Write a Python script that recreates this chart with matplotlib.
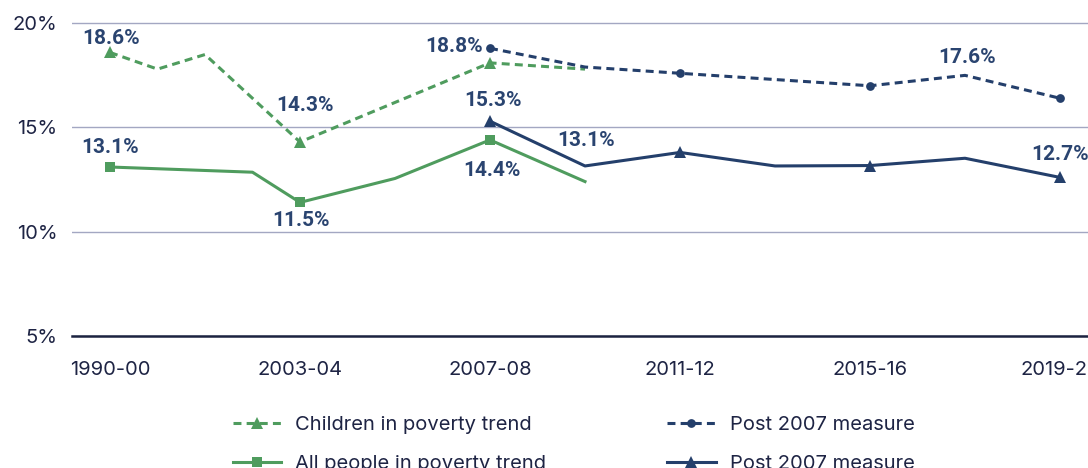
import matplotlib
matplotlib.use("Agg")
import matplotlib.pyplot as plt

# ---------------- data ----------------
categories = ["1990-00", "2000-01", "2001-02", "2002-03", "2003-04", "2004-05",
              "2005-06", "2006-07", "2007-08", "2008-09", "2009-10", "2010-11",
              "2011-12", "2012-13", "2013-14", "2014-15", "2015-16", "2016-17",
              "2017-18", "2018-19", "2019-20"]
tick_labels = ["1990-00", "2003-04", "2007-08", "2011-12", "2015-16", "2019-20"]

children_trend = [18.6, 17.8, 18.5, None, 14.3, None, None, None, 18.1, None, 17.8,
                  None, None, None, None, None, None, None, None, None, None]
all_people_trend = [13.1, None, None, 12.85, 11.4, None, 12.55, None, 14.4, None, 12.4,
                    None, None, None, None, None, None, None, None, None, None]
post2007_children = [None, None, None, None, None, None, None, None, 18.8, None, 17.9,
                     None, 17.6, None, None, None, 17.0, None, 17.5, None, 16.4]
post2007_all = [None, None, None, None, None, None, None, None, 15.3, None, 13.15,
                None, 13.8, None, 13.15, None, 13.17, None, 13.52, None, 12.6]

series_names = ["Children in poverty trend", "All people in poverty trend",
                "Post 2007 measure", "Post 2007 measure"]

# annotations: (series index, category index, text)
annotations = [
    (0, 0, "18.6%"), (0, 4, "14.3%"),
    (1, 0, "13.1%"), (1, 4, "11.5%"), (1, 8, "14.4%"),
    (2, 8, "18.8%"), (2, 18, "17.6%"),
    (3, 8, "15.3%"), (3, 10, "13.1%"), (3, 20, "12.7%"),
]
# label offsets in pixels (dx, dy, horizontal alignment)
ann_offsets = [
    (1, 14, "center"), (5, 37, "center"),
    (0, 20, "center"), (1, -18, "center"), (2, -31, "center"),
    (-7, 2, "right"), (2, 18, "center"),
    (3, 21, "center"), (1, 25, "center"), (0, 23, "center"),
]

# ---------------- style ----------------
GREEN = "#4f9c5e"
NAVY = "#243f6b"
LABEL_NAVY = "#2a4470"
TEXT = "#1e2444"
GRID = "#a3a7c2"
AXIS = "#1c2340"

plt.rcParams["font.family"] = ["Inter", "DejaVu Sans"]

W, H = 1088, 468
fig = plt.figure(figsize=(W / 100, H / 100), dpi=100)
# axes: y=5 at pixel 335.7, y=20 at pixel 23.3 ; x index 0 at 110 px, 47.5 px per step
ytop = 20.3
px_per = (335.7 - 23.3) / 15.0
top_px = 335.7 - (ytop - 5) * px_per
ax = fig.add_axes([72 / W, (H - 335.7) / H, 1026 / W, (335.7 - top_px) / H])
ax.set_xlim(-0.8, 20.8)
ax.set_ylim(5, ytop)

styles = [
    dict(color=GREEN, ls=(0, (2.6, 1.7)), marker="^", ms=9),
    dict(color=GREEN, ls="-", marker="s", ms=6.8),
    dict(color=NAVY, ls=(0, (2.6, 1.7)), marker="o", ms=6.3),
    dict(color=NAVY, ls="-", marker="^", ms=9),
]
all_series = [children_trend, all_people_trend, post2007_children, post2007_all]

handles = []
for vals, st, name in zip(all_series, styles, series_names):
    xs = [i for i, v in enumerate(vals) if v is not None]
    ys = [v for v in vals if v is not None]
    mk = [k for k, x in enumerate(xs) if x % 4 == 0]
    (h,) = ax.plot(xs, ys, color=st["color"], linestyle=st["ls"], linewidth=2.2,
                   marker=st["marker"], markersize=st["ms"], markevery=mk,
                   markeredgewidth=0, clip_on=False, zorder=3, label=name)
    handles.append(h)

for (si, ci, txt), (dx, dy, ha) in zip(annotations, ann_offsets):
    ax.annotate(txt, (ci, all_series[si][ci]), xytext=(dx, dy),
                textcoords="offset pixels", ha=ha, va="center",
                fontsize=15, fontweight="bold", color=LABEL_NAVY,
                family=["Roboto", "DejaVu Sans"],
                annotation_clip=False, zorder=5)

ax.set_xticks(range(0, len(categories), 4))
ax.set_xticklabels(tick_labels)
ax.set_yticks([5, 10, 15, 20])
ax.set_yticklabels(["5%", "10%", "15%", "20%"])
ax.tick_params(axis="both", length=0, labelsize=14.5, labelcolor=TEXT)
ax.tick_params(axis="y", pad=10.5)
ax.tick_params(axis="x", pad=18)
ax.yaxis.grid(True, color=GRID, linewidth=1.0)
ax.xaxis.grid(False)
ax.set_axisbelow(True)
for s in ["top", "right", "left"]:
    ax.spines[s].set_visible(False)
ax.spines["bottom"].set_color(AXIS)
ax.spines["bottom"].set_linewidth(1.8)
ax.spines["bottom"].set_zorder(2)

leg = fig.legend(handles=handles, loc="upper left",
                 bbox_to_anchor=(233 / W, (H - 416) / H), ncol=2, frameon=False,
                 fontsize=14.5, handlelength=2.4, handletextpad=0.7,
                 columnspacing=6.0, labelspacing=1.05, borderpad=0, borderaxespad=0)
for t in leg.get_texts():
    t.set_color(TEXT)

fig.savefig("out.png", dpi=100)
